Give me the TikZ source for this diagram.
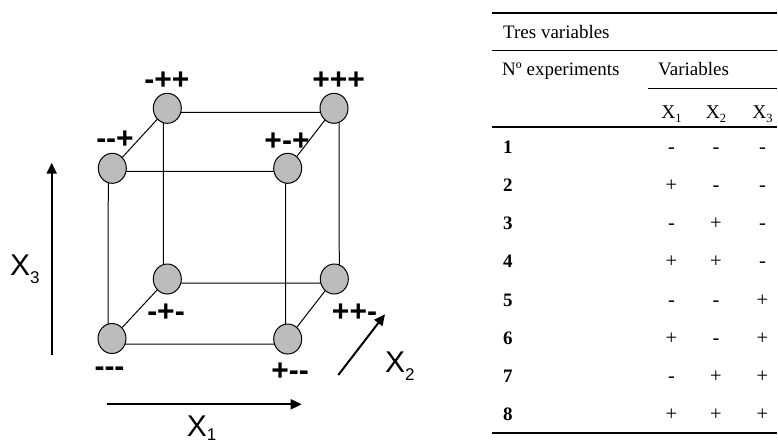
\documentclass[tikz,border=0pt]{standalone}
\usepackage{fontspec}
\setmainfont{Liberation Serif}
\newfontfamily\lsans{Liberation Sans}
\usetikzlibrary{arrows.meta,shapes.geometric,backgrounds}
\definecolor{ballfill}{RGB}{188,188,188}
\newcommand\mhy{\mbox{-}}
\tikzset{
 ball/.style={ellipse, draw=black, line width=1pt, fill=ballfill, minimum width=28pt, minimum height=30pt, inner sep=0pt},
 edge/.style={line width=1pt},
 lab/.style={font=\lsans\bfseries\fontsize{30}{30}\selectfont, inner sep=0pt},
 axis/.style={line width=2pt, -{Triangle[length=11pt,width=10pt]}},
 axlab/.style={font=\lsans\fontsize{30}{30}\selectfont, inner sep=0pt, anchor=base west},
 tx/.style={font=\fontsize{19}{19}\selectfont, inner sep=0pt, anchor=base west},
 num/.style={font=\bfseries\fontsize{19}{19}\selectfont, inner sep=0pt, anchor=base west},
 sgn/.style={font=\fontsize{20.5}{20.5}\selectfont, inner sep=0pt, anchor=base},
 hdr/.style={font=\fontsize{19.5}{19.5}\selectfont, inner sep=0pt, anchor=base},
 rulethick/.style={line width=1.6pt},
 rulethin/.style={line width=1.2pt},
}
\begin{document}
\begin{tikzpicture}[x=1pt,y=-1pt]
\useasboundingbox (0,0) rectangle (778,445);
% cube vertices
\node[ball] (n000) at (112,338.5) {};
\node[ball] (n001) at (112.3,168.3) {};
\node[ball] (n011) at (167.3,108.3) {};
\node[ball] (n010) at (167.3,279) {};
\node[ball] (n111) at (334,108.3) {};
\node[ball] (n101) at (287.7,168.3) {};
\node[ball] (n110) at (334.3,279) {};
\node[ball] (n100) at (287.7,339) {};
\coordinate (c000) at ([shift={(-4,5.5)}]n000.center);
\coordinate (c100) at ([shift={(-2,5)}]n100.center);
\coordinate (c001) at ([shift={(-4,3)}]n001.center);
\coordinate (c101) at ([shift={(-2,3)}]n101.center);
\coordinate (c010) at ([shift={(-4,4)}]n010.center);
\coordinate (c110) at ([shift={(5,4)}]n110.center);
\coordinate (c011) at ([shift={(-4,4)}]n011.center);
\coordinate (c111) at ([shift={(5,4)}]n111.center);
\begin{scope}[on background layer]
\draw[edge] (c000) -- (c100) -- (c101) -- (c001) -- cycle;
\draw[edge] (c010) -- (c110) -- (c111) -- (c011) -- cycle;
\draw[edge] (n000) -- (n010);
\draw[edge] (n001) -- (n011);
\draw[edge] (n101) -- (n111);
\draw[edge] (n100) -- (n110);
\end{scope}
% vertex labels
\node[lab] (l011) at (167,81) {\mhy++};
\node[lab] (l001) at (115,140) {\mhy\mhy+};
\node[lab] (l111) at (338.7,81) {+++};
\node[lab] (l101) at (287,142) {+\mhy+};
\node[lab] (l010) at (166,313) {\mhy+\mhy};
\node[lab] (l110) at (354.5,313) {++\mhy};
\node[lab] (l100) at (290,372) {+\mhy\mhy};
\node[lab] (l000) at (109.5,371.5) {\mhy\mhy\mhy};
% axes
\coordinate (a3s) at (51.7,355); \coordinate (a3e) at (51.7,162.7);
\coordinate (a1s) at (106.7,404.3); \coordinate (a1e) at (301.7,404.3);
\coordinate (a2s) at (338.3,375); \coordinate (a2e) at (385,314.3);
\draw[axis] (a3s) -- (a3e);
\draw[axis] (a1s) -- (a1e);
\draw[axis] (a2s) -- (a2e);
\node[axlab] (x3lab) at (10,275) {X\raisebox{-8pt}{\fontsize{17}{17}\selectfont 3}};
\node[axlab] (x1lab) at (186.7,436.5) {X\raisebox{-4pt}{\fontsize{17}{17}\selectfont 1}};
\node[axlab] (x2lab) at (385,372) {X\raisebox{-8pt}{\fontsize{17}{17}\selectfont 2}};
% table
\draw[rulethick] (491.7,12.7) -- (777,12.7);
\draw[rulethin] (491.7,50.5) -- (777,50.5);
\draw[rulethin] (648,88.7) -- (777,88.7);
\draw[rulethick] (491.7,127) -- (777,127);
\draw[rulethick] (491.7,432.7) -- (777,432.7);
\node[tx] (title) at (503,38) {Tres variables};
\node[tx] (nexp) at (502,75) {Nº experiments};
\node[tx] (vars) at (658,75) {Variables};
\node[hdr] (h1) at (671.5,118) {X\raisebox{-4pt}{\fontsize{12.5}{12.5}\selectfont 1}};
\node[hdr] (h2) at (716,118) {X\raisebox{-4pt}{\fontsize{12.5}{12.5}\selectfont 2}};
\node[hdr] (h3) at (762.5,118) {X\raisebox{-4pt}{\fontsize{12.5}{12.5}\selectfont 3}};
\foreach \i/\y/\a/\b/\c in {1/153/-/-/-, 2/191/+/-/-, 3/229/-/+/-, 4/267/+/+/-, 5/306/-/-/+, 6/344/+/-/+, 7/382/-/+/+, 8/420/+/+/+}{
  \node[num] (r\i) at (503,\y) {\i};
  \node[sgn] (s\i-1) at (671.5,\y) {\a};
  \node[sgn] (s\i-2) at (716,\y) {\b};
  \node[sgn] (s\i-3) at (762.5,\y) {\c};
}
\end{tikzpicture}
\end{document}
